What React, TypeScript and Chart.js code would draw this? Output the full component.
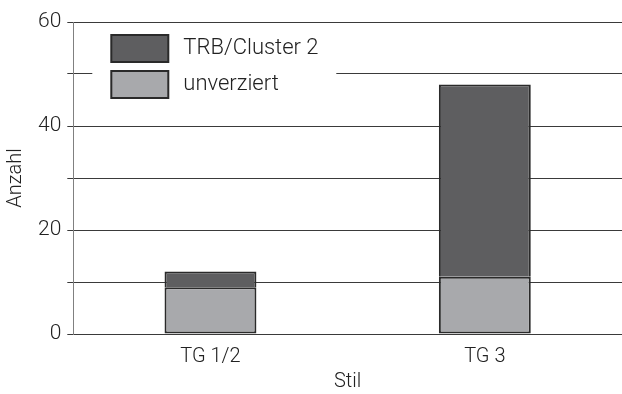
import React, { useEffect, useRef } from "react";
import { Chart, registerables } from "chart.js";

Chart.register(...registerables);

const categories = ["TG 1/2", "TG 3"];
const unverziert = [9, 11];
const trbCluster2 = [3, 37];
const yTicks = [0, 20, 40, 60];

const FONT = "Roboto";
const DARK = "#5e5e60";
const LIGHT = "#a8a9ac";
const EDGE = "#2a2a2a";
const TEXT = "#222";

// Legend drawn inside the plot area, on a white panel over the gridlines
const insideLegend = {
  id: "insideLegend",
  afterDatasetsDraw(chart: any) {
    const { ctx, chartArea } = chart;
    const items = [...chart.data.datasets].reverse();
    const x0 = chartArea.left;
    ctx.save();
    ctx.fillStyle = "#ffffff";
    ctx.fillRect(x0 + 19, chartArea.top + 8, 244, 86);
    items.forEach((ds: any, i: number) => {
      const by = chartArea.top + 13 + i * 36;
      ctx.fillStyle = ds.backgroundColor;
      ctx.fillRect(x0 + 38, by, 57, 27);
      ctx.lineWidth = 2;
      ctx.strokeStyle = EDGE;
      ctx.strokeRect(x0 + 38, by, 57, 27);
      ctx.fillStyle = TEXT;
      ctx.font = `300 22px ${FONT}`;
      ctx.textBaseline = "middle";
      ctx.textAlign = "left";
      ctx.fillText(ds.label, x0 + 110, by + 13);
    });
    ctx.restore();
  },
};

export default function App() {
  const ref = useRef<HTMLCanvasElement>(null);

  useEffect(() => {
    document.body.style.margin = "0";
    const chart = new Chart(ref.current!, {
      type: "bar",
      data: {
        labels: categories,
        datasets: [
          {
            label: "unverziert",
            data: unverziert,
            backgroundColor: LIGHT,
            borderColor: EDGE,
            borderWidth: 2,
            borderSkipped: false,
            barPercentage: 0.67,
            categoryPercentage: 0.5,
          },
          {
            label: "TRB/Cluster 2",
            data: trbCluster2,
            backgroundColor: DARK,
            borderColor: EDGE,
            borderWidth: { top: 2, left: 2, right: 2, bottom: 0 },
            borderSkipped: false,
            barPercentage: 0.67,
            categoryPercentage: 0.5,
          },
        ],
      },
      options: {
        animation: false,
        responsive: false,
        layout: { padding: { top: 22, right: 0, left: 4, bottom: 2 } },
        plugins: { legend: { display: false }, tooltip: { enabled: false } },
        scales: {
          x: {
            stacked: true,
            grid: { display: false },
            border: { display: false },
            ticks: { color: TEXT, font: { family: FONT, size: 20, weight: 300, lineHeight: 1 }, padding: 5 },
            title: {
              display: true,
              text: "Stil",
              color: TEXT,
              font: { family: FONT, size: 20, weight: 300, lineHeight: 1 },
              padding: { top: 0, bottom: 0 },
            },
          },
          y: {
            stacked: true,
            min: 0,
            max: 60,
            ticks: {
              stepSize: 10,
              color: TEXT,
              font: { family: FONT, size: 21, weight: 300 },
              padding: 6,
              callback: (v: any) => (yTicks.includes(Number(v)) ? String(v) : ""),
            },
            grid: { color: "#3a3a3a", lineWidth: 1, tickLength: 6, drawTicks: true },
            border: { display: true, color: "#808080", width: 1 },
            title: {
              display: true,
              text: "Anzahl",
              color: TEXT,
              font: { family: FONT, size: 20, weight: 300 },
              padding: { top: 0, bottom: 4 },
            },
          },
        },
      },
      plugins: [insideLegend],
    });
    return () => chart.destroy();
  }, []);

  return (
    <div style={{ width: 622, height: 394 }}>
      <canvas ref={ref} width={622} height={394} />
    </div>
  );
}
